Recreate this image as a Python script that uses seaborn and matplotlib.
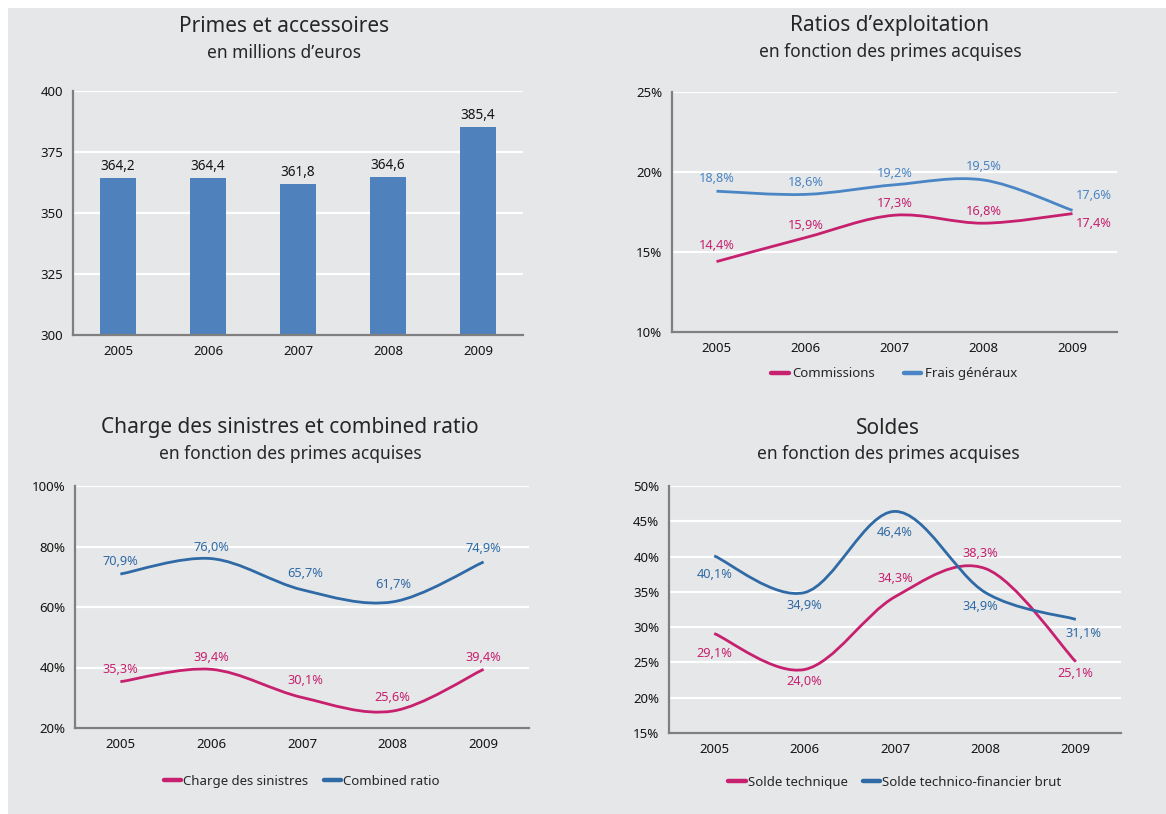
import numpy as np
import matplotlib
matplotlib.use("Agg")
import matplotlib.pyplot as plt
from matplotlib.path import Path
from matplotlib.patches import PathPatch, Rectangle
from matplotlib.lines import Line2D
import seaborn as sns

# ---- data ----
years = ["2005", "2006", "2007", "2008", "2009"]

primes = [364.2, 364.4, 361.8, 364.6, 385.4]

commissions = [14.4, 15.9, 17.3, 16.8, 17.4]
frais_generaux = [18.8, 18.6, 19.2, 19.5, 17.6]

charge_sinistres = [35.3, 39.4, 30.1, 25.6, 39.4]
combined_ratio = [70.9, 76.0, 65.7, 61.7, 74.9]

solde_technique = [29.1, 24.0, 34.3, 38.3, 25.1]
solde_tech_fin = [40.1, 34.9, 46.4, 34.9, 31.1]

# ---- style ----
sns.set_theme(style="white")
plt.rcParams["font.family"] = ["Noto Sans", "DejaVu Sans"]

BG = "#e6e7e8"
BAR = "#4f81bd"
MAGENTA = "#c6206f"
BLUE_LIGHT = "#4a85c5"
BLUE_DARK = "#2f6aa6"
AXIS = "#7f7f7f"
TEXT = "#262626"
TICK = "#141414"


def fr(v, pct=True):
    s = f"{v:.1f}".replace(".", ",")
    return s + "%" if pct else s


def smooth_path(xs, ys):
    """Cubic Bezier path through the points (Catmull-Rom control points)."""
    pts = np.column_stack([xs, ys]).astype(float)
    n = len(pts)
    verts = [pts[0]]
    codes = [Path.MOVETO]
    for i in range(n - 1):
        p0 = pts[i - 1] if i > 0 else pts[i]
        p1 = pts[i]
        p2 = pts[i + 1]
        p3 = pts[i + 2] if i + 2 < n else pts[i + 1]
        c1 = p1 + (p2 - p0) / 6.0
        c2 = p2 - (p3 - p1) / 6.0
        verts += [c1, c2, p2]
        codes += [Path.CURVE4] * 3
    return Path(verts, codes)


def style_axes(ax, ylim, yticks, pct=True):
    ax.set_facecolor(BG)
    ax.set_xlim(-0.5, 4.5)
    ax.set_ylim(*ylim)
    ax.set_yticks(yticks)
    ax.set_yticklabels([f"{t}%" if pct else f"{t}" for t in yticks])
    ax.set_xticks(range(len(years)))
    ax.set_xticklabels(years)
    ax.set_xticks(np.arange(-0.5, 5.0, 1.0), minor=True)
    ax.tick_params(axis="x", which="major", length=0, pad=7, labelsize=9.5, labelcolor=TICK)
    ax.tick_params(axis="x", which="minor", length=5, width=1.5, color=AXIS, direction="out")
    ax.tick_params(axis="y", which="major", length=5, width=1.5, color=AXIS, direction="out",
                   pad=2, labelsize=9.5, labelcolor=TICK)
    ax.grid(axis="y", color="white", linewidth=1.6)
    ax.set_axisbelow(True)
    for side in ("top", "right"):
        ax.spines[side].set_visible(False)
    for side in ("left", "bottom"):
        ax.spines[side].set_color(AXIS)
        ax.spines[side].set_linewidth(1.6)
    ax.set_xlabel("")
    ax.set_ylabel("")


def draw_series(ax, values, color, offsets, label):
    xs = np.arange(len(values))
    ax.add_patch(PathPatch(smooth_path(xs, values), facecolor="none", edgecolor=color,
                           linewidth=2.0, capstyle="butt", zorder=3))
    for x, v, (dx, dy) in zip(xs, values, offsets):
        ax.annotate(fr(v), (x, v), xytext=(dx, dy), textcoords="offset pixels",
                    ha="center", va="center", color=color, fontsize=9.2)
    return Line2D([0], [0], color=color, linewidth=3.2, label=label)


def titles(x, y, title, subtitle):
    fig.text(x / W, 1 - y / H, title, ha="center", va="center", fontsize=15, color=TEXT)
    fig.text(x / W, 1 - (y + 26) / H, subtitle, ha="center", va="center", fontsize=12.5, color=TEXT)


W, H = 1166, 814
fig = plt.figure(figsize=(W / 100, H / 100), dpi=100)
fig.patch.set_facecolor("white")
fig.add_artist(Rectangle((8 / W, 0), 1 - 8 / W, 1 - 8 / H, transform=fig.transFigure,
                         facecolor=BG, edgecolor="none", zorder=-10))


def axes_px(left, right, top, bottom):
    return fig.add_axes([left / W, 1 - bottom / H, (right - left) / W, (bottom - top) / H])


# ---- Primes et accessoires ----
ax1 = axes_px(73, 523, 91, 335)
sns.barplot(x=years, y=primes, color=BAR, width=0.4, saturation=1, linewidth=0,
            ax=ax1, zorder=2)
style_axes(ax1, (300, 400), [300, 325, 350, 375, 400], pct=False)
for i, v in enumerate(primes):
    ax1.annotate(fr(v, pct=False), (i, v), xytext=(0, 4), textcoords="offset pixels",
                 ha="center", va="bottom", color=TICK, fontsize=9.8)
titles(284, 27, "Primes et accessoires", "en millions d\u2019euros")

# ---- Ratios d'exploitation ----
ax2 = axes_px(672, 1117, 92, 332)
style_axes(ax2, (10, 25), [10, 15, 20, 25])
h1 = draw_series(ax2, commissions, MAGENTA,
                 [(0, 16), (0, 12), (0, 12), (0, 12), (21, -10)], "Commissions")
h2 = draw_series(ax2, frais_generaux, BLUE_LIGHT,
                 [(0, 13), (0, 12), (0, 11), (0, 14), (21, 15)], "Frais généraux")
ax2.legend(handles=[h1, h2], loc="center", bbox_to_anchor=(0.5, -0.175), ncol=2,
           frameon=False, fontsize=9.5, handlelength=1.3, handletextpad=0.3,
           columnspacing=2.2, labelcolor=TEXT)
titles(890, 26, "Ratios d\u2019exploitation", "en fonction des primes acquises")

# ---- Charge des sinistres et combined ratio ----
ax3 = axes_px(75, 529, 486, 728)
style_axes(ax3, (20, 100), [20, 40, 60, 80, 100])
h3 = draw_series(ax3, charge_sinistres, MAGENTA,
                 [(0, 12), (0, 12), (3, 17), (0, 14), (0, 12)], "Charge des sinistres")
h4 = draw_series(ax3, combined_ratio, BLUE_DARK,
                 [(0, 13), (0, 11), (3, 16), (0, 17), (0, 13)], "Combined ratio")
ax3.legend(handles=[h3, h4], loc="center", bbox_to_anchor=(0.5, -0.22), ncol=2,
           frameon=False, fontsize=9.5, handlelength=1.3, handletextpad=0.15,
           columnspacing=1.2, labelcolor=TEXT)
titles(290, 428, "Charge des sinistres et combined ratio", "en fonction des primes acquises")

# ---- Soldes ----
ax4 = axes_px(669, 1121, 486, 733)
style_axes(ax4, (15, 50), [15, 20, 25, 30, 35, 40, 45, 50])
h5 = draw_series(ax4, solde_technique, MAGENTA,
                 [(0, -20), (0, -12), (0, 18), (-5, 15), (0, -12)], "Solde technique")
h6 = draw_series(ax4, solde_tech_fin, BLUE_DARK,
                 [(0, -19), (0, -13), (0, -21), (-5, -14), (8, -14)], "Solde technico-financier brut")
ax4.legend(handles=[h5, h6], loc="center", bbox_to_anchor=(0.5, -0.2), ncol=2,
           frameon=False, fontsize=9.5, handlelength=1.3, handletextpad=0.15,
           columnspacing=1.2, labelcolor=TEXT)
titles(888, 428, "Soldes", "en fonction des primes acquises")

fig.savefig("out.png", dpi=100, facecolor=fig.get_facecolor())
